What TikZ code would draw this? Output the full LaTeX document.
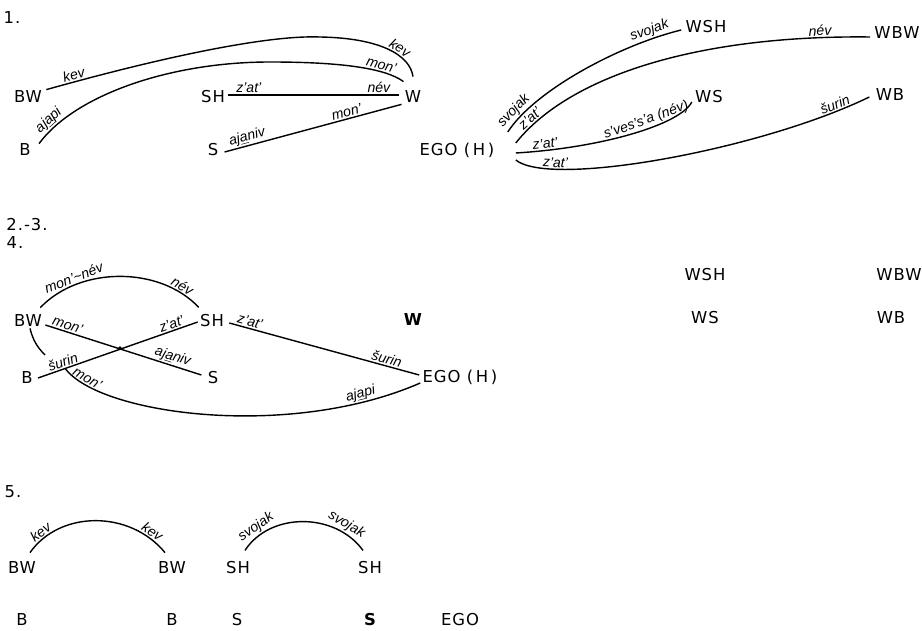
\documentclass[tikz,border=0pt]{standalone}
\usepackage{fontspec}
\setmainfont{DejaVu Sans}[LetterSpace=6]
\newfontfamily\lblfont{Liberation Sans}

\begin{document}
\begin{tikzpicture}[x=0.3mm,y=-0.3mm,
  term/.style={font=\fontsize{14}{16}\selectfont,inner sep=1pt},
  termb/.style={term,font=\bfseries\fontsize{14}{16}\selectfont},
  lbl/.style={font=\lblfont\itshape\fontsize{12}{14}\selectfont,sloped,above,inner sep=1pt},
  rel/.style={line width=1.2pt}]
\useasboundingbox (0,0) rectangle (922,631);

% 1.
\node[term] (n1) at (12,18) {1.};
\node[term] (BWa) at (28,97) {BW};
\node[term] (Ba) at (25,150) {B};
\node[term] (SHa) at (213,97) {SH};
\node[term] (Wa) at (413,97) {W};
\node[term] (Sa) at (213,150) {S};
\node[term] (EGOa) at (457,150) {EGO\ (\,H\,)};
\node[term] (WSHa) at (706,27) {WSH};
\node[term] (WBWa) at (897,33) {WBW};
\node[term] (WSa) at (709,97) {WS};
\node[term] (WBa) at (890,95) {WB};

\draw[rel] ([shift={(3,0)}]BWa.north east) .. controls (170,55) and (270,35) .. node[lbl,pos=0.08]{kev} (320,37)
  .. controls (380,38) and (410,55) .. node[lbl,pos=0.6]{kev} ([shift={(0,-13)}]Wa.north);
\draw[rel] ([shift={(7,1)}]Ba.north east) .. controls (75,95) and (170,62) .. node[lbl,pos=0.12]{aj\underline{a}pi} (270,62)
  .. controls (340,62) and (385,68) .. node[lbl,pos=0.7]{mon’} ([shift={(0,-8)}]Wa.north west);
\draw[rel] ([shift={(2,-2)}]SHa.east) -- node[lbl,pos=0.12]{z’at’} node[lbl,pos=0.88]{név} ([shift={(-4,-2)}]Wa.west);
\draw[rel] ([shift={(5,2)}]Sa.east) -- node[lbl,pos=0.14]{aj\underline{a}niv} node[lbl,pos=0.7]{mon’} ([shift={(-2,0)}]Wa.south west);

\draw[rel] ([shift={(12,-18)}]EGOa.east) .. controls (535,90) and (620,45) .. node[lbl,pos=0.12]{svojak} node[lbl,pos=0.85]{svojak} ([shift={(-3,3)}]WSHa.west);
\draw[rel] ([shift={(20,-7)}]EGOa.east) .. controls (570,75) and (700,35) .. node[lbl,pos=0.1]{z’at’} node[lbl,pos=0.9]{név} ([shift={(-3,4)}]WBWa.west);
\draw[rel] ([shift={(20,3)}]EGOa.east) .. controls (600,148) and (680,125) .. node[lbl,pos=0.12]{z’at’} node[lbl,pos=0.6]{s’ves’s’a (név)} ([shift={(-2,5)}]WSa.west);
\draw[rel] ([shift={(20,10)}]EGOa.east) .. controls (550,188) and (760,150) .. node[lbl,pos=0.2]{z’at’} node[lbl,pos=0.91]{šurin} ([shift={(-5,2)}]WBa.west);

% 2.-3. / 4.
\node[term] (n23) at (27,225) {2.-3.};
\node[term] (n4) at (15,243) {4.};
\node[term] (BWb) at (28,321) {BW};
\node[term] (SHb) at (212,321) {SH};
\node[termb] (Wb) at (413,320) {W};
\node[term] (Bb) at (27,378) {B};
\node[term] (Sb) at (213,378) {S};
\node[term] (EGOb) at (460,377) {EGO\ (\,H\,)};
\node[term] (WSHb) at (705,275) {WSH};
\node[term] (WBWb) at (899,275) {WBW};
\node[term] (WSb) at (705,318) {WS};
\node[term] (WBb) at (891,318) {WB};
\coordinate (bwtip) at (45,355);

\draw[rel] ([shift={(-3,-6)}]BWb.north east) .. controls (80,266) and (160,266) .. node[lbl,pos=0.25]{mon’\textasciitilde név} node[lbl,pos=0.85]{név} ([shift={(0,-6)}]SHb.north west);
\draw[rel] ([shift={(2,4)}]BWb.east) -- node[lbl,pos=0.13]{mon’} node[lbl,pos=0.8]{aj\underline{a}niv} ([shift={(-5,-3)}]Sb.west);
\draw[rel] ([shift={(4,0)}]Bb.east) -- coordinate[pos=0.17] (bfork) node[lbl,pos=0.17]{šurin} node[lbl,pos=0.85]{z’at’} ([shift={(-1,1)}]SHb.west);
\draw[rel] ([shift={(2,0)}]BWb.south) to[bend right=15] (bwtip);
\fill (120,348) circle[radius=1.5pt];
\draw[rel] ([shift={(4,2)}]SHb.east) -- node[lbl,pos=0.1]{z’at’} node[lbl,pos=0.82]{šurin} ([shift={(-2,-2)}]EGOb.west);
\draw[rel] (bfork) .. controls (100,415) and (290,440) .. node[lbl,pos=0.12]{mon’} node[lbl,pos=0.86]{aj\underline{a}pi} ([shift={(-1,6)}]EGOb.west);

% 5.
\node[term] (n5) at (13,492) {5.};
\node[term] (BWc) at (22,568) {BW};
\node[term] (BWd) at (172,568) {BW};
\node[term] (SHc) at (238,568) {SH};
\node[term] (SHd) at (370,568) {SH};
\node[term] (Bc) at (22,620) {B};
\node[term] (Bd) at (172,620) {B};
\node[term] (Sc) at (237,620) {S};
\node[termb] (Sd) at (370,620) {S};
\node[term] (EGOc) at (460,620) {EGO};

\draw[rel] ([shift={(8,-8)}]BWc.north) .. controls (60,510) and (130,510) .. node[lbl,pos=0.14]{kev} node[lbl,pos=0.86]{kev} ([shift={(-7,-8)}]BWd.north);
\draw[rel] ([shift={(7,-10)}]SHc.north) .. controls (270,512) and (335,512) .. node[lbl,pos=0.17]{svojak} node[lbl,pos=0.8]{svojak} ([shift={(-7,-10)}]SHd.north);
\end{tikzpicture}
\end{document}
